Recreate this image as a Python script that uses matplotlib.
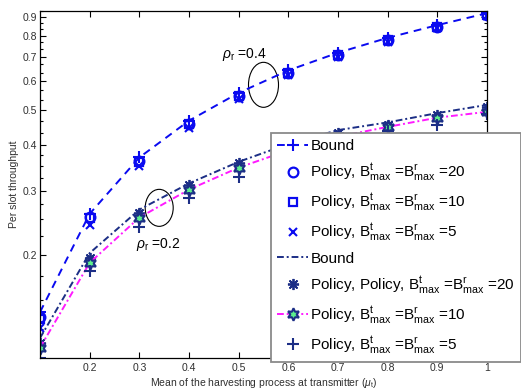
import numpy as np
import matplotlib
matplotlib.use('Agg')
import matplotlib.pyplot as plt
from matplotlib.patches import Ellipse
from matplotlib.ticker import FixedLocator, NullFormatter

plt.rcParams['font.family'] = ['Liberation Sans', 'DejaVu Sans']
plt.rcParams['mathtext.fontset'] = 'custom'
plt.rcParams['mathtext.rm'] = 'Liberation Sans'
plt.rcParams['mathtext.it'] = 'Liberation Sans:italic'

# mean of harvesting process at transmitter
mu_t = [0.1, 0.2, 0.3, 0.4, 0.5, 0.6, 0.7, 0.8, 0.9, 1.0]

# rho_r = 0.4
bound_hi = [0.139, 0.259, 0.370, 0.467, 0.557, 0.642, 0.718, 0.789, 0.855, 0.922]
pol20_hi = [0.135, 0.254, 0.362, 0.458, 0.546, 0.632, 0.708, 0.779, 0.845, 0.912]
pol10_hi = [0.133, 0.252, 0.360, 0.456, 0.545, 0.630, 0.706, 0.777, 0.843, 0.910]
pol5_hi = [0.126, 0.242, 0.351, 0.446, 0.536, 0.622, 0.700, 0.770, 0.838, 0.905]

# rho_r = 0.2
bound_lo = [0.118, 0.202, 0.266, 0.314, 0.360, 0.403, 0.440, 0.462, 0.490, 0.516]
pol20_lo = [0.114, 0.196, 0.261, 0.311, 0.358, 0.398, 0.433, 0.455, 0.484, 0.510]
pol10_lo = [0.111, 0.190, 0.253, 0.302, 0.347, 0.387, 0.422, 0.449, 0.476, 0.494]
pol5_lo = [0.104, 0.180, 0.239, 0.287, 0.327, 0.368, 0.402, 0.437, 0.455, 0.486]

xticks = [0.2, 0.3, 0.4, 0.5, 0.6, 0.7, 0.8, 0.9, 1.0]
xticklabels = ['0.2', '0.3', '0.4', '0.5', '0.6', '0.7', '0.8', '0.9', '1']
yticks = [0.2, 0.3, 0.4, 0.5, 0.6, 0.7, 0.8, 0.9]
yticklabels = ['0.2', '0.3', '0.4', '0.5', '0.6', '0.7', '0.8', '0.9']

blue = '#0a0af0'
navy = '#1c2e86'
mag = '#ff1aff'
green = '#5cf08c'

lab = r'Policy, B$^{\mathrm{t}}_{\mathrm{max}}$ =B$^{\mathrm{r}}_{\mathrm{max}}$ =%s'

fig = plt.figure(figsize=(5.21, 3.9), dpi=100)
ax = fig.add_axes([40/521., 1-358/390., 447/521., 347/390.])
ax.set_yscale('log')

ax.plot(mu_t, bound_hi, color=blue, ls=(0, (4, 3)), lw=1.4, marker='+', ms=8, mew=1.5, label='Bound')
ax.plot(mu_t, pol20_hi, ls='none', marker='o', ms=7, mew=1.6, mfc='none', mec=blue, label=lab % '20')
ax.plot(mu_t, pol10_hi, ls='none', marker='s', ms=6, mew=1.6, mfc='none', mec=blue, label=lab % '10')
ax.plot(mu_t, pol5_hi, ls='none', marker='x', ms=6, mew=1.5, color=blue, label=lab % '5')

ax.plot(mu_t, bound_lo, color=navy, ls=(0, (3.5, 1.5, 1, 1.5)), lw=1.4, label='Bound')
ax.plot(mu_t, pol20_lo, ls='none', marker=(8, 2, 0), ms=8, mew=1.3, color=navy,
        label=r'Policy, Policy, B$^{\mathrm{t}}_{\mathrm{max}}$ =B$^{\mathrm{r}}_{\mathrm{max}}$ =20')
ax.plot(mu_t, pol10_lo, color=mag, ls=(0, (3.5, 1.5, 1, 1.5)), lw=1.4, marker=(6, 1, 0), ms=9,
        mew=1.5, mec=navy, mfc=green, label=lab % '10')
ax.plot(mu_t, pol5_lo, ls='none', marker='+', ms=9, mew=1.5, color=navy, label=lab % '5')

ax.set_xlim(0.1, 1.0)
ax.set_ylim(0.104, 0.935)
ax.set_xticks(xticks)
ax.set_xticklabels(xticklabels)
ax.yaxis.set_major_locator(FixedLocator(yticks))
ax.set_yticklabels(yticklabels)
minor = list(np.arange(0.1, 0.4, 0.025)) + list(np.arange(0.4, 0.935, 1/30.))
ax.yaxis.set_minor_locator(FixedLocator(minor))
ax.yaxis.set_minor_formatter(NullFormatter())
ax.tick_params(which='both', direction='in', top=True, right=True, labelsize=7.5,
               labelcolor='#303030', width=0.8)
ax.tick_params(which='major', length=4)
ax.tick_params(which='minor', length=2.5)
ax.tick_params(axis='y', pad=2)
for s in ax.spines.values():
    s.set_linewidth(0.9)

ax.set_xlabel(r'Mean of the harvesting process at transmitter ($\mu_{\mathrm{t}}$)', fontsize=7.5,
              color='#303030', labelpad=2)
ax.set_ylabel('Per slot throughput', fontsize=7.5, color='#303030', labelpad=3)

# annotations
to_ax = ax.transData + ax.transAxes.inverted()
for cx, cy, w, h in [(0.55, 0.586, 30, 45), (0.34, 0.269, 28, 37)]:
    c = to_ax.transform((cx, cy))
    ax.add_patch(Ellipse(c, w/447., h/347., transform=ax.transAxes, fill=False, lw=0.8, color='k'))
ax.text(0.466, 0.695, r'$\rho_{\mathrm{r}}$ =0.4', fontsize=10, ha='left', va='baseline')
ax.text(0.293, 0.208, r'$\rho_{\mathrm{r}}$ =0.2', fontsize=10, ha='left', va='baseline')

leg = ax.legend(loc='upper left', bbox_to_anchor=(271/521., 1-133/390.), bbox_transform=fig.transFigure,
                fontsize=11, handlelength=2.0, handletextpad=0.15, labelspacing=0.55, borderpad=0.42,
                fancybox=False, framealpha=1, edgecolor='#8a8a8a', borderaxespad=0)
leg.get_frame().set_linewidth(1.3)

fig.savefig('out.png', dpi=100)
